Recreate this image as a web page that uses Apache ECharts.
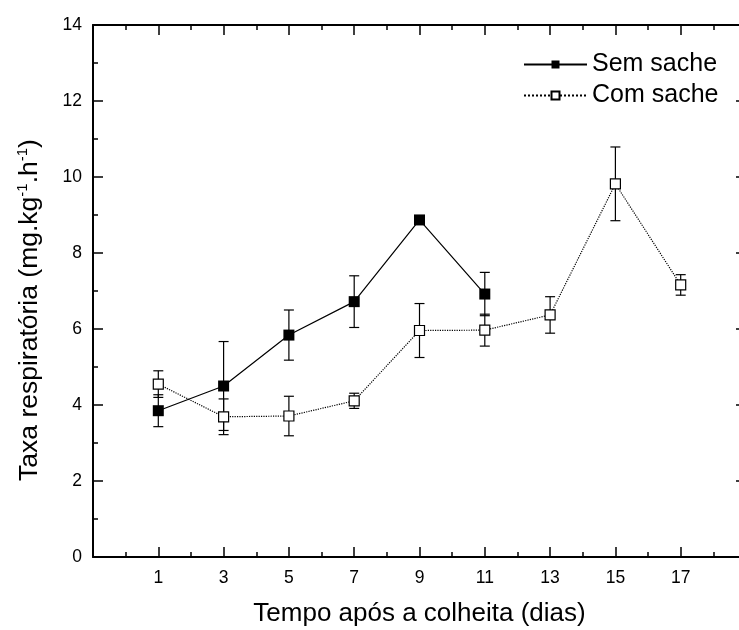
<!DOCTYPE html>
<html>
<head>
<meta charset="utf-8">
<script src="https://cdn.jsdelivr.net/npm/echarts@6/dist/echarts.min.js"></script>
<style>html,body{margin:0;padding:0;background:#fff}#c{width:739px;height:630px}</style>
</head>
<body>
<div id="c"></div>
<script>
const semDays = [1, 3, 5, 7, 9, 11];
const semMean = [3.85, 4.50, 5.84, 6.72, 8.87, 6.92];
const semErr  = [0.42, 1.17, 0.66, 0.68, 0.08, 0.57];
const comDays = [1, 3, 5, 7, 9, 11, 13, 15, 17];
const comMean = [4.55, 3.69, 3.71, 4.11, 5.96, 5.97, 6.37, 9.82, 7.16];
const comErr  = [0.35, 0.47, 0.52, 0.20, 0.71, 0.42, 0.48, 0.97, 0.27];
const seriesNames = ['Sem sache', 'Com sache'];
const xTitle = 'Tempo após a colheita (dias)';

const FONT = 'Liberation Sans, Arial, Helvetica, sans-serif';
const chart = echarts.init(document.getElementById('c'));

function pts(days, vals) { return days.map((d, i) => [d, vals[i]]); }
function errData(days, vals, errs) { return days.map((d, i) => [d, vals[i] - errs[i], vals[i] + errs[i]]); }

function errRender(params, api) {
  const x = api.value(0), lo = api.value(1), hi = api.value(2);
  const pLo = api.coord([x, lo]), pHi = api.coord([x, hi]);
  const w = 5;
  const st = { stroke: '#000', lineWidth: 1.2 };
  return { type: 'group', children: [
    { type: 'line', shape: { x1: pLo[0], y1: pLo[1], x2: pHi[0], y2: pHi[1] }, style: st },
    { type: 'line', shape: { x1: pLo[0] - w, y1: pLo[1], x2: pLo[0] + w, y2: pLo[1] }, style: st },
    { type: 'line', shape: { x1: pHi[0] - w, y1: pHi[1], x2: pHi[0] + w, y2: pHi[1] }, style: st }
  ]};
}

const axisLine = { show: true, onZero: false, lineStyle: { color: '#000', width: 2 } };
const axisTick = { show: true, inside: true, length: 10, lineStyle: { color: '#000', width: 1.5 } };
const minorTick = { show: true, splitNumber: 2, length: 5, lineStyle: { color: '#000', width: 1.5 } };

const xBase = { type: 'value', min: -1, max: 19, interval: 2, axisLine, axisTick, minorTick, splitLine: { show: false } };
const yBase = { type: 'value', min: 0, max: 14, interval: 2, axisLine, axisTick, minorTick, splitLine: { show: false } };

chart.setOption({
  animation: false,
  textStyle: { fontFamily: FONT },
  grid: { left: 93, top: 25, width: 653, height: 532, containLabel: false, outerBoundsMode: 'none' },
  legend: {
    data: seriesNames, orient: 'vertical', left: 518, top: 47,
    itemWidth: 63, itemHeight: 10, itemGap: 6,
    textStyle: { fontSize: 25, color: '#000', fontFamily: FONT }
  },
  xAxis: [
    Object.assign({}, xBase, {
      position: 'bottom',
      name: xTitle, nameLocation: 'middle', nameGap: 44,
      nameTextStyle: { fontSize: 26, color: '#000', fontFamily: FONT },
      axisLabel: { margin: 12, fontSize: 17.5, color: '#000', fontFamily: FONT,
        formatter: v => (v < 1 || v > 17) ? '' : String(v) }
    }),
    Object.assign({}, xBase, { position: 'top', axisLabel: { show: false } })
  ],
  yAxis: [
    Object.assign({}, yBase, {
      position: 'left',
      name: 'Taxa respiratória (mg.kg{sup|-1}.h{sup|-1})',
      nameLocation: 'middle', nameGap: 48,
      nameTextStyle: { fontSize: 26.5, color: '#000', fontFamily: FONT, lineHeight: 30, padding: [0, 38, 0, 0],
        rich: { sup: { fontSize: 15, verticalAlign: 'top', lineHeight: 30, color: '#000', fontFamily: FONT } } },
      axisLabel: { margin: 11, fontSize: 17.5, color: '#000', fontFamily: FONT }
    }),
    Object.assign({}, yBase, { position: 'right', axisLabel: { show: false } })
  ],
  series: [
    { type: 'custom', name: 'errSem', renderItem: errRender, data: errData(semDays, semMean, semErr), z: 1, silent: true },
    { type: 'custom', name: 'errCom', renderItem: errRender, data: errData(comDays, comMean, comErr), z: 1, silent: true },
    { type: 'line', name: seriesNames[0], data: pts(semDays, semMean), z: 3,
      symbol: 'rect', symbolSize: 11, showAllSymbol: true,
      lineStyle: { color: '#000', width: 1.2, type: 'solid' },
      itemStyle: { color: '#000', borderColor: '#000', borderWidth: 0 } },
    { type: 'line', name: seriesNames[1], data: pts(comDays, comMean), z: 3,
      symbol: 'rect', symbolSize: 10, showAllSymbol: true,
      lineStyle: { color: '#000', width: 1.2, type: 'dotted' },
      itemStyle: { color: '#fff', borderColor: '#000', borderWidth: 1.2 } }
  ]
});
</script>
</body>
</html>
